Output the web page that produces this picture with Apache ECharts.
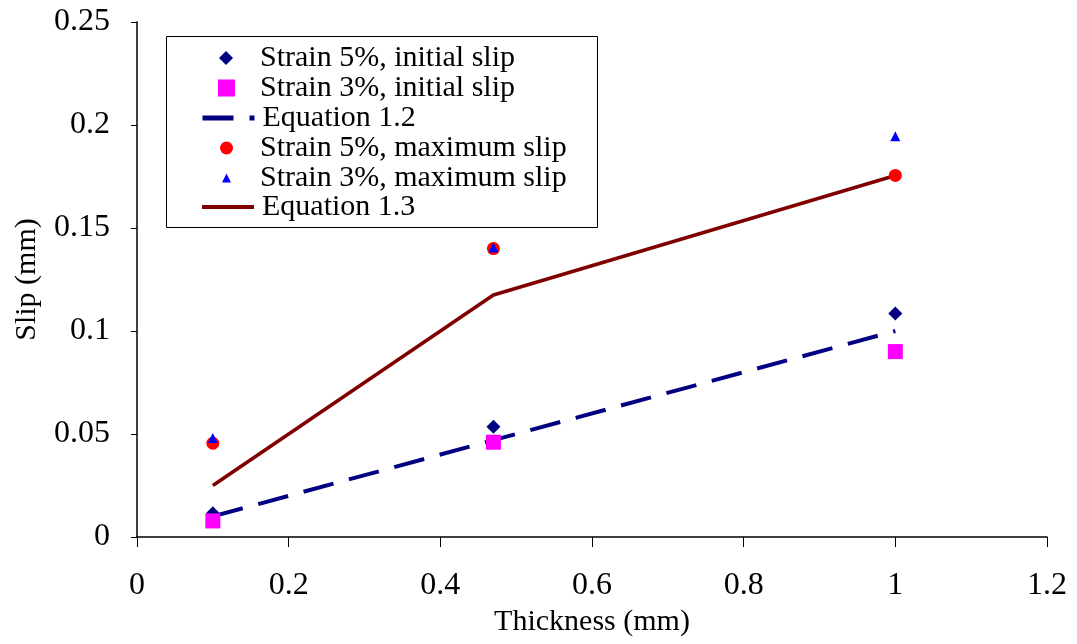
<!DOCTYPE html>
<html>
<head>
<meta charset="utf-8">
<script src="https://cdn.jsdelivr.net/npm/echarts@6/dist/echarts.min.js"></script>
<style>html,body{margin:0;padding:0;background:#fff;}#c{width:1077px;height:644px;}</style>
</head>
<body>
<div id="c"></div>
<script>
var thickness = [0.1, 0.47, 1];
var strain5Initial = [0.0115, 0.0535, 0.1085];
var strain3Initial = [0.0078, 0.046, 0.090];
var equation12 = [0.010, 0.047, 0.100];
var strain5Max = [0.0455, 0.140, 0.1755];
var strain3Max = [0.048, 0.1405, 0.1945];
var equation13 = [0.025, 0.1175, 0.1755];
var xTicks = [0, 0.2, 0.4, 0.6, 0.8, 1, 1.2];
var yTicks = [0, 0.05, 0.1, 0.15, 0.2, 0.25];
var legendNames = ['Strain 5%, initial slip', 'Strain 3%, initial slip', 'Equation 1.2',
                   'Strain 5%, maximum slip', 'Strain 3%, maximum slip', 'Equation 1.3'];

function pairs(ys) { return thickness.map(function (x, i) { return [x, ys[i]]; }); }
var F = '"Liberation Serif", "Times New Roman", serif';

// legend layout (per-row icon sizes)
var rowCenters = [58, 88, 118, 148, 178, 207];
var iconW = [14, 17, 52, 13, 9, 52];
var iconH = [14, 17, 16, 13, 9, 16];
var isLine = [false, false, true, false, false, true];
var lineW = [0, 0, 5, 0, 0, 4];
var textStart = 260;

var legends = legendNames.map(function (n, i) {
  var left = isLine[i] ? 200 : Math.round(226 - iconW[i] / 2);
  var pad = textStart - (left + iconW[i] + 5);
  var item = { name: n };
  if (isLine[i]) {
    item.itemStyle = { opacity: 0 };
    item.lineStyle = { width: lineW[i] };
  }
  return {
    orient: 'vertical', left: left, top: rowCenters[i] - 15,
    padding: 0, itemGap: 0, itemWidth: iconW[i], itemHeight: iconH[i],
    selectedMode: false,
    textStyle: { fontFamily: F, fontSize: 30, color: '#000', lineHeight: 30, padding: [0, 0, 0, pad] },
    data: [item]
  };
});

var chart = echarts.init(document.getElementById('c'));
chart.setOption({
  animation: false,
  backgroundColor: '#ffffff',
  grid: { left: 137, right: 30, top: 22, bottom: 107 },
  legend: legends,
  graphic: [{ type: 'rect', shape: { x: 166.5, y: 36.5, width: 431, height: 191 },
              style: { fill: 'none', stroke: '#000', lineWidth: 1 }, z: 100 }],
  xAxis: {
    type: 'value', min: 0, max: 1.2, interval: 0.2,
    name: 'Thickness (mm)', nameLocation: 'middle', nameGap: 64,
    nameTextStyle: { fontFamily: F, fontSize: 30, color: '#000' },
    axisLine: { lineStyle: { color: '#000', width: 1.5 } },
    axisTick: { show: true, length: 10, lineStyle: { color: '#000' } },
    axisLabel: { fontFamily: F, fontSize: 32, color: '#000', margin: 33,
      formatter: function (v) { return xTicks.indexOf(+v.toFixed(1)) >= 0 ? String(+v.toFixed(1)) : ''; } },
    splitLine: { show: false }
  },
  yAxis: {
    type: 'value', min: 0, max: 0.25, interval: 0.05,
    name: 'Slip (mm)', nameLocation: 'middle', nameGap: 95,
    nameTextStyle: { fontFamily: F, fontSize: 30, color: '#000' },
    axisLine: { show: true, lineStyle: { color: '#000', width: 1.5 } },
    axisTick: { show: true, length: 6, lineStyle: { color: '#000' } },
    axisLabel: { fontFamily: F, fontSize: 32, color: '#000', margin: 27,
      formatter: function (v) { var s = +v.toFixed(2); return yTicks.indexOf(s) >= 0 ? String(s) : ''; } },
    splitLine: { show: false }
  },
  series: [
    { name: 'Equation 1.3', type: 'line', data: pairs(equation13), symbol: 'none', z: 2,
      lineStyle: { color: '#800000', width: 3.5 }, itemStyle: { color: '#800000' } },
    { name: 'Equation 1.2', type: 'line', data: pairs(equation12), symbol: 'none', z: 2,
      lineStyle: { color: '#000080', width: 4, type: [31, 16] }, itemStyle: { color: '#000080' } },
    { name: 'Strain 5%, initial slip', type: 'scatter', data: pairs(strain5Initial), symbol: 'diamond', symbolSize: 14, z: 3,
      itemStyle: { color: '#000080', opacity: 1 } },
    { name: 'Strain 3%, initial slip', type: 'scatter', data: pairs(strain3Initial), symbol: 'rect', symbolSize: 15, z: 4,
      itemStyle: { color: '#FF00FF', opacity: 1 } },
    { name: 'Strain 5%, maximum slip', type: 'scatter', data: pairs(strain5Max), symbol: 'circle', symbolSize: 13, z: 3,
      itemStyle: { color: '#FF0000', opacity: 1 } },
    { name: 'Strain 3%, maximum slip', type: 'scatter', data: pairs(strain3Max), symbol: 'triangle', symbolSize: 10, z: 4,
      itemStyle: { color: '#0000FF', opacity: 1 } }
  ]
});
</script>
</body>
</html>
